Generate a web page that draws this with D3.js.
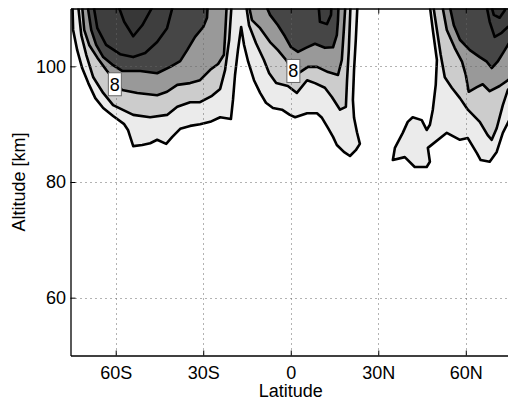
<!DOCTYPE html>
<html><head><meta charset="utf-8">
<script src="https://cdn.jsdelivr.net/npm/d3@7"></script>
<style>body{margin:0;background:#fff;} svg{display:block;font-family:"Liberation Sans",Arial,Helvetica,sans-serif;}</style>
</head><body><svg id="c" width="508" height="400"></svg>
<script>
// ---- data (latitude in degrees, altitude in km) ----
const latTicks = [-60, -30, 0, 30, 60];
const latTickLabels = ["60S", "30S", "0", "30N", "60N"];
const altTicks = [60, 80, 100];
const contourLevels = [4, 6, 8, 10, 12, 14];
const levelColors = ["#ebebeb", "#cccccc", "#999999", "#464646", "#3e3e3e", "#373737"];

// contour outlines per level (rings of [lat, alt])
const level1 = [
  [[-74.9,112],[-74.6,106.3],[-73.2,102.8],[-71.5,99.7],[-69.4,97.1],[-67.0,94.5],[-64.3,92.8],[-60.9,91.4],[-57.1,90.0],[-55.8,89.0],[-54.0,86.2],[-50.9,86.4],[-48.2,86.7],[-45.8,87.3],[-42.7,86.6],[-40.6,87.8],[-37.9,89.2],[-34.5,89.7],[-31.1,90.0],[-27.6,90.4],[-24.2,91.2],[-20.5,90.9],[-19.8,94.2],[-19.1,98.5],[-18.1,102.8],[-17.0,106.8],[-16.0,103.7],[-14.6,100.8],[-12.6,97.6],[-10.5,95.4],[-8.5,93.7],[-6.1,92.8],[-3.0,92.5],[-0.3,91.6],[1.5,91.2],[5.6,91.9],[9.0,91.9],[10.7,91.1],[12.8,89.3],[14.5,87.8],[15.8,86.4],[18.2,85.2],[20.3,84.5],[22.3,85.5],[23.7,86.6],[22.7,88.6],[21.7,91.1],[21.3,94.2],[21.7,99.4],[22.3,104.6],[23.0,112]],
  [[47.3,112],[48.7,106.3],[50.1,101.1],[49.7,96.8],[48.7,92.5],[47.7,89.9],[46.6,89.0],[44.9,90.7],[41.8,91.2],[40.1,90.4],[38.4,88.5],[35.7,85.9],[35.0,83.8],[39.1,84.3],[42.5,82.6],[46.6,82.6],[47.7,83.5],[47.0,85.9],[53.5,88.5],[58.0,87.3],[60.7,87.6],[63.8,85.0],[65.1,83.8],[68.2,83.5],[70.6,85.2],[72.7,88.5],[74.4,90.2],[75.8,91.6],[77,92],[77,112]]
];
const level2 = [
  [[-73.2,112],[-71.8,105.4],[-70.1,102.0],[-67.7,98.1],[-64.3,95.4],[-60.9,93.3],[-54.0,91.6],[-48.2,91.2],[-42.4,91.6],[-38.9,93.0],[-34.5,93.8],[-31.1,93.8],[-27.0,94.9],[-24.2,96.1],[-22.5,99.4],[-21.1,104.6],[-20.1,112]],
  [[-15.7,112],[-14.3,107.1],[-11.9,104.0],[-9.2,101.1],[-7.4,98.8],[-5.0,97.1],[-1.0,96.6],[2.1,95.4],[5.6,97.6],[8.3,97.1],[11.7,96.3],[14.1,94.7],[16.9,92.5],[18.9,93.0],[19.3,97.6],[19.9,102.8],[20.6,112]],
  [[48.4,112],[50.1,106.3],[51.4,102.0],[52.8,98.1],[55.2,96.3],[58.0,94.5],[60.7,92.5],[64.8,90.4],[67.5,88.1],[68.9,87.3],[70.6,89.3],[72.7,93.3],[74.4,95.9],[75.8,96.8],[77,97],[77,112]]
];
const level3 = [
  [[-71.8,112],[-70.8,106.3],[-69.1,103.7],[-66.3,101.5],[-63.3,99.4],[-60.5,97.6],[-57.8,95.9],[-52.6,95.4],[-45.8,95.0],[-42.4,95.6],[-38.9,96.8],[-34.5,97.1],[-31.1,97.6],[-27.6,99.4],[-24.9,100.4],[-22.9,102.0],[-22.5,105.4],[-21.8,112]],
  [[-15.0,112],[-13.3,108.0],[-10.5,106.6],[-7.1,104.2],[-4.4,102.8],[-1.6,101.1],[0.8,99.0],[3.2,99.0],[5.9,99.9],[9.0,99.9],[12.8,99.0],[16.2,98.5],[17.5,101.1],[18.2,106.3],[18.9,112]],
  [[51.4,112],[53.5,106.3],[56.2,103.2],[58.7,100.8],[60.0,98.5],[61.0,95.6],[63.8,96.4],[65.8,96.9],[68.2,95.7],[71.6,96.6],[74.4,97.6],[75.8,98.0],[77,98],[77,112]]
];
const level4 = [
  [[-70.1,112],[-68.4,106.3],[-66.7,103.7],[-64.3,101.6],[-61.2,100.3],[-57.8,99.2],[-51.6,99.2],[-45.8,98.8],[-41.3,99.9],[-37.9,100.9],[-35.5,102.8],[-32.8,105.1],[-30.0,106.8],[-28.7,108.4],[-28.3,112]],
  [[-9.8,112],[-7.1,108.9],[-4.4,107.1],[-2.0,105.2],[0.1,103.3],[2.5,102.5],[5.2,103.2],[8.3,103.9],[11.7,103.2],[14.5,103.3],[15.8,105.4],[16.2,108.0],[16.5,112]],
  [[53.8,112],[55.9,107.1],[58.0,104.6],[61.4,102.8],[64.8,101.6],[67.2,100.8],[68.9,99.7],[70.9,100.8],[73.0,102.5],[74.7,103.9],[75.8,104.6],[77,104.6],[77,112]]
];
const level5 = [
  [[-68.1,112],[-66.3,106.6],[-63.3,103.7],[-58.5,102.1],[-54.0,101.6],[-49.9,102.3],[-45.8,104.2],[-42.4,106.6],[-39.6,112]],
  [[9.3,112],[10.0,107.7],[12.4,107.3],[13.8,108.9],[14.1,112]],
  [[66.5,112],[68.2,107.7],[69.9,105.1],[72.3,105.8],[74.4,106.8],[75.8,107.1],[77,107.1],[77,112]]
];
const level6 = [
  [[-60.2,112],[-57.1,107.7],[-54.0,105.2],[-50.9,107.1],[-45.5,112]],
  [[67.9,112],[69.6,108.9],[71.6,108.4],[73.4,109.7],[73.7,112]]
];
const contourLabels = [
  {lat: -60.3, alt: 96.9, text: "8"},
  {lat: 0.9, alt: 99.2, text: "8"}
];

// ---- drawing ----
const svg = d3.select("#c");
const x = d3.scaleLinear().domain([-75.5, 75.5]).range([70.5, 511]);
const y = d3.scaleLinear().domain([50, 110]).range([355.5, 8.5]);
const FONT = '"Liberation Sans", Arial, Helvetica, sans-serif';

svg.append("defs").append("clipPath").attr("id", "plotclip")
  .append("rect").attr("x", x.range()[0]).attr("y", y.range()[1])
  .attr("width", x.range()[1] - x.range()[0]).attr("height", y.range()[0] - y.range()[1]);

const plot = svg.append("g").attr("clip-path", "url(#plotclip)");
const line = d3.line().x(d => x(d[0])).y(d => y(d[1]));
const levels = [level1, level2, level3, level4, level5, level6];

levels.forEach((rings, i) => {
  plot.selectAll(null).data(rings).enter().append("path")
    .attr("d", r => line(r) + "Z")
    .attr("fill", levelColors[i]).attr("stroke", "none");
});
levels.forEach((rings) => {
  plot.selectAll(null).data(rings).enter().append("path")
    .attr("d", r => line(r) + "Z")
    .attr("fill", "none").attr("stroke", "#000").attr("stroke-width", 2.6)
    .attr("stroke-linejoin", "round");
});

// grid (dotted, on top)
const grid = svg.append("g").attr("clip-path", "url(#plotclip)")
  .attr("stroke", "#666").attr("stroke-width", 1).attr("stroke-dasharray", "1,4");
grid.selectAll(null).data(latTicks).enter().append("line")
  .attr("x1", d => Math.round(x(d)) + 0.5).attr("x2", d => Math.round(x(d)) + 0.5)
  .attr("y1", y.range()[1]).attr("y2", y.range()[0]);
grid.selectAll(null).data(altTicks).enter().append("line")
  .attr("y1", d => Math.round(y(d)) + 0.5).attr("y2", d => Math.round(y(d)) + 0.5)
  .attr("x1", x.range()[0]).attr("x2", x.range()[1]);

// contour labels
const lab = svg.append("g");
contourLabels.forEach(l => {
  const cx = x(l.lat), cy = y(l.alt);
  lab.append("rect").attr("x", cx - 6.5).attr("y", cy - 11.5).attr("width", 13).attr("height", 23)
    .attr("fill", "#fff").attr("stroke", "#666").attr("stroke-width", 1);
  lab.append("text").attr("x", cx).attr("y", cy).attr("dy", "0.36em")
    .attr("text-anchor", "middle").attr("font-size", 18).attr("font-family", FONT).text(l.text);
});

// axes
function styleAxis(g) {
  g.attr("font-size", 18).attr("font-family", FONT);
  g.select(".domain").attr("stroke", "#000").attr("stroke-width", 1.3);
  g.selectAll(".tick line").attr("stroke", "#000").attr("stroke-width", 1);
  g.selectAll(".tick text").attr("fill", "#000");
}
svg.append("g").attr("transform", `translate(0,${y.range()[0]})`)
  .call(d3.axisBottom(x).tickValues(latTicks).tickFormat((d, i) => latTickLabels[i])
    .tickSize(-5).tickSizeOuter(0).tickPadding(11))
  .call(styleAxis);
svg.append("g").attr("transform", `translate(0,${y.range()[1]})`)
  .call(d3.axisTop(x).tickValues(latTicks).tickFormat("").tickSize(-5).tickSizeOuter(0))
  .call(styleAxis);
svg.append("g").attr("transform", `translate(${x.range()[0]},0)`)
  .call(d3.axisLeft(y).tickValues(altTicks).tickSize(-5).tickSizeOuter(0).tickPadding(4.5))
  .call(styleAxis);

// axis titles
svg.append("text").attr("x", x(0)).attr("y", 397)
  .attr("text-anchor", "middle").attr("font-size", 18).attr("font-family", FONT).text("Latitude");
svg.append("text").attr("transform", `translate(25,${y(80)}) rotate(-90)`)
  .attr("text-anchor", "middle").attr("font-size", 18).attr("font-family", FONT).text("Altitude [km]");
</script></body></html>
